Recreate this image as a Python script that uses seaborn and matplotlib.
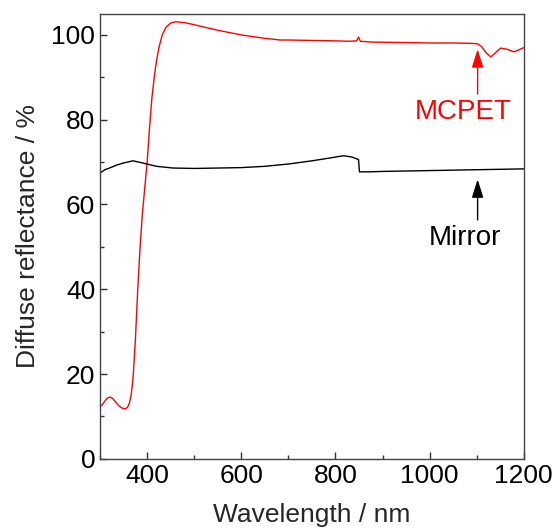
import matplotlib
matplotlib.use("Agg")
import matplotlib.pyplot as plt
from matplotlib.ticker import MultipleLocator
import pandas as pd
import seaborn as sns

# MCPET spectrum
mcpet_nm = [300, 305, 310, 315, 321, 327, 333, 340, 346, 353, 358, 362, 366,
            370, 375, 380, 385, 390, 395, 400, 405, 410, 415, 420, 425, 432,
            440, 450, 460, 480, 500, 550, 600, 650, 683, 700, 750, 800, 830,
            845, 849, 853, 880, 950, 1000, 1050, 1090, 1102, 1110, 1120, 1130,
            1140, 1151, 1165, 1179, 1190, 1200]
mcpet_r = [12.3, 12.8, 13.6, 14.3, 14.6, 14.2, 13.4, 12.5, 12.0, 11.8, 12.1,
           13.0, 15.0, 19.0, 28.0, 40.0, 50.0, 58.0, 64.0, 70.0, 78.0, 85.0,
           90.0, 94.0, 97.0, 100.0, 101.8, 102.8, 103.1, 102.9, 102.4, 101.1,
           100.0, 99.2, 98.8, 98.8, 98.7, 98.6, 98.5, 98.6, 99.5, 98.5, 98.3,
           98.2, 98.1, 98.1, 98.0, 97.9, 97.3, 95.8, 94.8, 95.8, 96.9, 96.6,
           96.0, 96.5, 97.0]

# Mirror spectrum
mirror_nm = [300, 310, 320, 335, 350, 370, 390, 420, 455, 500, 550, 600, 650,
             704, 750, 790, 817, 835, 849, 851, 870, 900, 950, 1000, 1050,
             1100, 1150, 1200]
mirror_r = [67.4, 68.2, 68.6, 69.3, 69.8, 70.3, 69.8, 69.0, 68.6, 68.5, 68.6,
            68.7, 69.0, 69.6, 70.3, 71.0, 71.5, 71.2, 70.6, 67.7, 67.7, 67.8,
            67.9, 68.0, 68.1, 68.2, 68.3, 68.4]

x_ticks = [400, 600, 800, 1000, 1200]
y_ticks = [0, 20, 40, 60, 80, 100]

df = pd.concat([
    pd.DataFrame({"wavelength": mcpet_nm, "reflectance": mcpet_r, "sample": "MCPET"}),
    pd.DataFrame({"wavelength": mirror_nm, "reflectance": mirror_r, "sample": "Mirror"}),
])

sns.set_style("ticks")
plt.rcParams["font.family"] = ["Liberation Sans", "DejaVu Sans"]

fig = plt.figure(figsize=(5.56, 5.28), dpi=100)
ax = fig.add_axes([0.18, 0.131, 0.762, 0.843])

sns.lineplot(data=df, x="wavelength", y="reflectance", hue="sample",
             palette={"MCPET": "#ff0000", "Mirror": "#000000"},
             linewidth=1.0, legend=False, ax=ax, sort=False)

ax.set_xlim(300, 1200)
ax.set_ylim(0, 105)
ax.set_xticks(x_ticks)
ax.set_yticks(y_ticks)
ax.xaxis.set_minor_locator(MultipleLocator(100))
ax.yaxis.set_minor_locator(MultipleLocator(10))
ax.tick_params(which="both", direction="in", labelsize=19, colors="#333333",
               labelcolor="black")
ax.tick_params(which="major", length=5, width=1)
ax.tick_params(which="minor", length=3, width=1)
for side in ["top", "right", "left", "bottom"]:
    ax.spines[side].set_visible(True)
    ax.spines[side].set_color("#444444")
    ax.spines[side].set_linewidth(1.0)

ax.set_xlabel("Wavelength / nm", fontsize=19, labelpad=11)
ax.set_ylabel("Diffuse reflectance / %", fontsize=19, labelpad=8)

head = "-|>,head_length=0.7,head_width=0.22"
ax.annotate("", xy=(1102, 97.3), xytext=(1102, 85.4),
            arrowprops=dict(arrowstyle=head, color="#ff0000", lw=1.0,
                            mutation_scale=16))
ax.text(1072, 81.8, "MCPET", color="#ff0000", fontsize=20,
        ha="center", va="center")
ax.annotate("", xy=(1102, 66.6), xytext=(1102, 55.7),
            arrowprops=dict(arrowstyle=head, color="black", lw=1.0,
                            mutation_scale=16))
ax.text(1076, 52.0, "Mirror", color="black", fontsize=20,
        ha="center", va="center")

fig.savefig("out.png", dpi=100)
